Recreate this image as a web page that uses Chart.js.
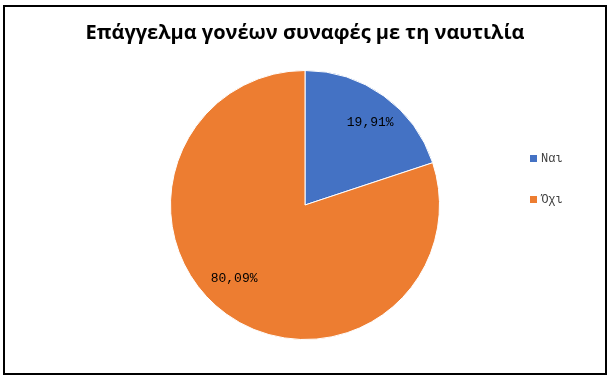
<!DOCTYPE html>
<html><head><meta charset="utf-8">
<script src="https://cdn.jsdelivr.net/npm/chart.js@4"></script>
<style>html,body{margin:0;padding:0;background:#fff}#wrap{width:613px;height:383px;position:relative}</style>
</head><body><div id="wrap"><canvas id="c"></canvas></div>
<script>
const categories = ['Ναι', 'Όχι'];
const shares = [19.91, 80.09];
const sliceColors = ['#4472C4', '#ED7D31'];
const chartTitle = 'Επάγγελμα γονέων συναφές με τη ναυτιλία';

const fmt = v => v.toFixed(2).replace('.', ',') + '%';

const frame = {
  id: 'frame',
  beforeDraw(chart) {
    const ctx = chart.ctx;
    ctx.save();
    ctx.fillStyle = '#fff';
    ctx.fillRect(0, 0, chart.width, chart.height);
    ctx.strokeStyle = '#000';
    ctx.lineWidth = 2;
    ctx.strokeRect(4, 6, 602, 368);
    ctx.restore();
  }
};

const pctLabels = {
  id: 'pctLabels',
  afterDatasetsDraw(chart, args, opts) {
    const meta = chart.getDatasetMeta(0);
    const ctx = chart.ctx;
    ctx.save();
    ctx.font = '13px "Liberation Mono"';
    ctx.fillStyle = '#000';
    ctx.textAlign = 'center';
    ctx.textBaseline = 'middle';
    meta.data.forEach((arc, i) => {
      const p = arc.getProps(['x', 'y', 'startAngle', 'endAngle', 'outerRadius'], true);
      const mid = (p.startAngle + p.endAngle) / 2 + opts.nudge[i] * Math.PI / 180;
      const r = p.outerRadius * opts.frac[i];
      ctx.fillText(fmt(chart.data.datasets[0].data[i]), p.x + Math.cos(mid) * r, p.y + Math.sin(mid) * r);
    });
    ctx.restore();
  }
};

const sideLegend = {
  id: 'sideLegend',
  afterDraw(chart, args, opts) {
    const ctx = chart.ctx;
    const ds = chart.data.datasets[0];
    ctx.save();
    ctx.font = '12px "Liberation Mono"';
    ctx.textAlign = 'left';
    ctx.textBaseline = 'middle';
    chart.data.labels.forEach((lab, i) => {
      const cy = opts.y + i * opts.step;
      ctx.fillStyle = ds.backgroundColor[i];
      ctx.fillRect(opts.x, cy - 3.5, 7, 7);
      ctx.fillStyle = '#404040';
      ctx.fillText(lab, opts.x + 11, cy);
    });
    ctx.restore();
  }
};

new Chart(document.getElementById('c'), {
  type: 'pie',
  data: {
    labels: categories,
    datasets: [{
      data: shares,
      backgroundColor: sliceColors,
      borderColor: '#fff',
      borderWidth: 1
    }]
  },
  plugins: [frame, pctLabels, sideLegend],
  options: {
    responsive: true,
    maintainAspectRatio: false,
    animation: false,
    layout: { padding: { top: 0, bottom: 43, left: 0, right: 3 } },
    plugins: {
      title: {
        display: true,
        text: chartTitle,
        color: '#000',
        font: { family: '"Open Sans"', size: 20, weight: 'bold', lineHeight: 1.2 },
        padding: { top: 21, bottom: 25 }
      },
      legend: { display: false },
      tooltip: { enabled: false },
      pctLabels: { nudge: [2.6, 8.3], frac: [0.78, 0.757] },
      sideLegend: { x: 530, y: 158.5, step: 41 }
    }
  }
});
</script>
</body></html>
